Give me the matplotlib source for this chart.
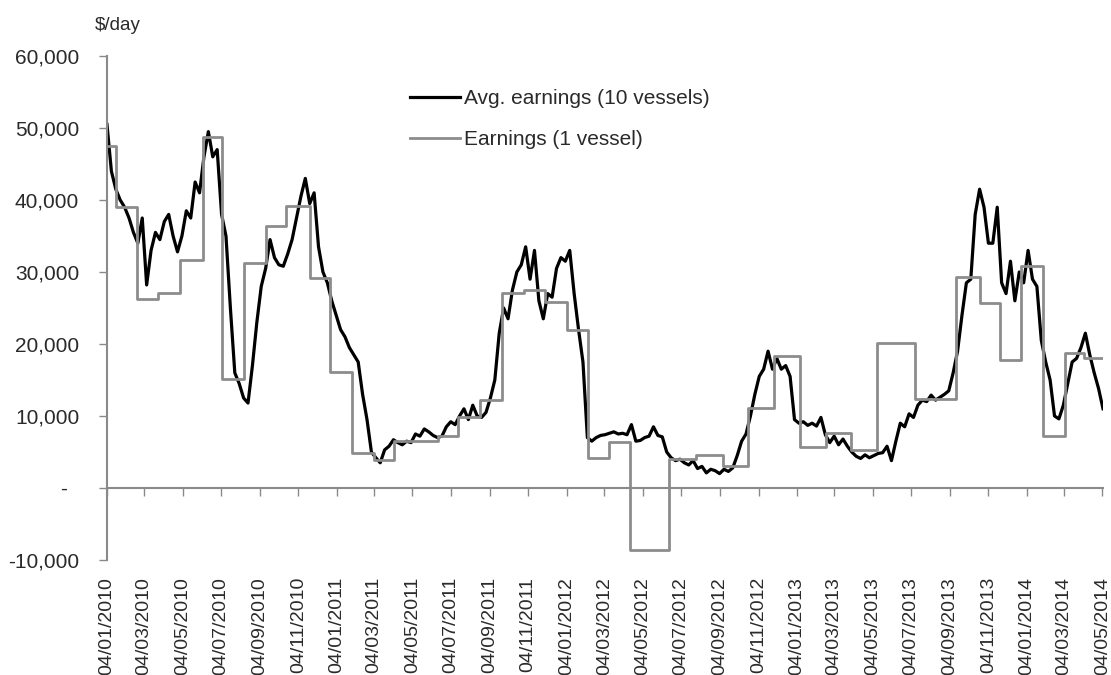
import numpy as np
import pandas as pd
import matplotlib
matplotlib.use("Agg")
import matplotlib.pyplot as plt
import matplotlib.dates as mdates
from matplotlib.ticker import FuncFormatter

# weekly average earnings of the 10 vessels, $/day, first week 04/01/2010
avg_start = "2010-01-04"
avg_earn = [
    50500, 44000, 41500, 40000, 39000, 37500, 35500, 34000, 37500, 28200,
    33000, 35500, 34500, 37000, 38000, 35000, 32800, 35000, 38500, 37500,
    42500, 41000, 46000, 49500, 46000, 47000, 38000, 35000, 25000, 16000,
    14500, 12500, 11800, 17000, 23000, 28000, 30500, 34500, 32000, 31000,
    30800, 32500, 34500, 37500, 40500, 43000, 39500, 41000, 33500, 30000,
    28500, 26000, 24000, 22000, 21000, 19500, 18500, 17500, 13000, 9500,
    5000, 4200, 3500, 5300, 5800, 6700, 6300, 6000, 6500, 6300,
    7500, 7200, 8200, 7800, 7300, 7000, 7200, 8500, 9200, 8800,
    10000, 11000, 9500, 11500, 10000, 9800, 10500, 12500, 15000, 21500,
    25000, 23500, 27500, 30000, 31000, 33500, 29000, 33000, 26000, 23500,
    27000, 26500, 30500, 32000, 31500, 33000, 27000, 22000, 17500, 7000,
    6500, 7000, 7300, 7400, 7600, 7800, 7500, 7600, 7400, 8800,
    6500, 6600, 7000, 7200, 8500, 7300, 7100, 5000, 4200, 3800,
    4000, 3500, 3200, 3800, 2700, 3000, 2100, 2600, 2400, 2000,
    2600, 2300, 2800, 4500, 6500, 7500, 10000, 13000, 15500, 16500,
    19000, 16500, 18000, 16500, 17000, 15500, 9500, 9000, 9200, 8700,
    9000, 8600, 9800, 7400, 6300, 7200, 6000, 6800, 5800, 5000,
    4400, 4100, 4600, 4200, 4500, 4800, 4900, 5800, 3800, 6500,
    9000, 8500, 10300, 9800, 11500, 12200, 12000, 12900, 12200, 12600,
    13000, 13500, 16000, 19000, 24000, 28500, 29000, 38000, 41500, 39000,
    34000, 34000, 39000, 28500, 27000, 31500, 26000, 30000, 28500, 33000,
    29000, 28000, 20500, 17500, 15000, 10000, 9600, 11500, 14500, 17500,
    18000, 19500, 21500, 18500, 16000, 13800, 11000,
]

# earnings of the single vessel: value holds from each date to the next
one_dates = [
    "2010-01-04", "2010-01-18", "2010-02-21", "2010-03-26", "2010-04-30",
    "2010-06-05", "2010-07-06", "2010-08-09", "2010-09-13", "2010-10-16",
    "2010-11-22", "2010-12-24", "2011-01-28", "2011-03-04", "2011-04-05",
    "2011-06-14", "2011-07-16", "2011-08-19", "2011-09-23", "2011-10-28",
    "2011-11-30", "2012-01-04", "2012-02-07", "2012-03-11", "2012-04-14",
    "2012-06-15", "2012-07-27", "2012-09-08", "2012-10-18", "2012-11-28",
    "2013-01-08", "2013-02-19", "2013-03-31", "2013-05-11", "2013-07-11",
    "2013-09-14", "2013-10-21", "2013-11-23", "2013-12-25", "2014-01-29",
    "2014-03-06", "2014-04-05", "2014-05-05",
]
one_earn = [
    47500, 39000, 26300, 27100, 31600,
    48800, 15200, 31200, 36400, 39200,
    29200, 16100, 4800, 3900, 6500,
    7200, 9900, 12200, 27100, 27500,
    25800, 21900, 4200, 6400, -8600,
    4000, 4600, 3100, 11100, 18400,
    5700, 7600, 5300, 20100, 12400,
    29300, 25700, 17800, 30800, 7200,
    18700, 18000, 18000,
]

axis_grey = "#8a8a8a"
text_col = "#2a2a2a"
plt.rcParams["font.family"] = ["Liberation Sans", "DejaVu Sans"]

avg_dates = pd.date_range(avg_start, periods=len(avg_earn), freq="7D")

fig = plt.figure(figsize=(11.11, 6.75), dpi=100)
ax = fig.add_axes([0.0963, 0.1704, 0.8965, 0.7466])

ax.plot(avg_dates, avg_earn, color="black", lw=2.3, label="Avg. earnings (10 vessels)")
ax.plot(pd.to_datetime(one_dates), one_earn, color="#8c8c8c", lw=2.0,
        drawstyle="steps-post", label="Earnings (1 vessel)")

ax.set_ylim(-10000, 60000)
ax.set_xlim(pd.Timestamp("2010-01-04"), pd.Timestamp("2014-05-05"))

# y axis, Excel accounting style labels
ax.set_yticks(np.arange(-10000, 60001, 10000))
ax.yaxis.set_major_formatter(FuncFormatter(
    lambda v, p: "-  " if v == 0 else f"{v:,.0f}"))
ax.tick_params(axis="y", direction="out", length=6, width=1, color=axis_grey,
               labelsize=15, labelcolor=text_col, pad=14)

# x axis runs along zero, labels stay below the plot
ax.spines["bottom"].set_position(("data", 0))
ax.xaxis.set_major_locator(mdates.MonthLocator(bymonth=[1, 3, 5, 7, 9, 11], bymonthday=4))
ax.xaxis.set_major_formatter(mdates.DateFormatter("%d/%m/%Y"))
ax.tick_params(axis="x", direction="out", length=6, width=1, color=axis_grey,
               labelsize=14, labelcolor=text_col, pad=58, labelrotation=90)

for side in ["top", "right"]:
    ax.spines[side].set_visible(False)
for side in ["left", "bottom"]:
    ax.spines[side].set_color(axis_grey)
    ax.spines[side].set_linewidth(1.5)

fig.text(95 / 1111, 1 - 25 / 675, r"\$/day", fontsize=13.5, color=text_col, va="center")

ax.legend(loc="upper left", bbox_to_anchor=(400 / 1111, 1 - 79 / 675),
          bbox_transform=fig.transFigure, frameon=False, fontsize=15,
          handlelength=2.4, handletextpad=0.15, labelspacing=1.05, borderpad=0,
          labelcolor=text_col)

fig.savefig("out.png", dpi=100)
